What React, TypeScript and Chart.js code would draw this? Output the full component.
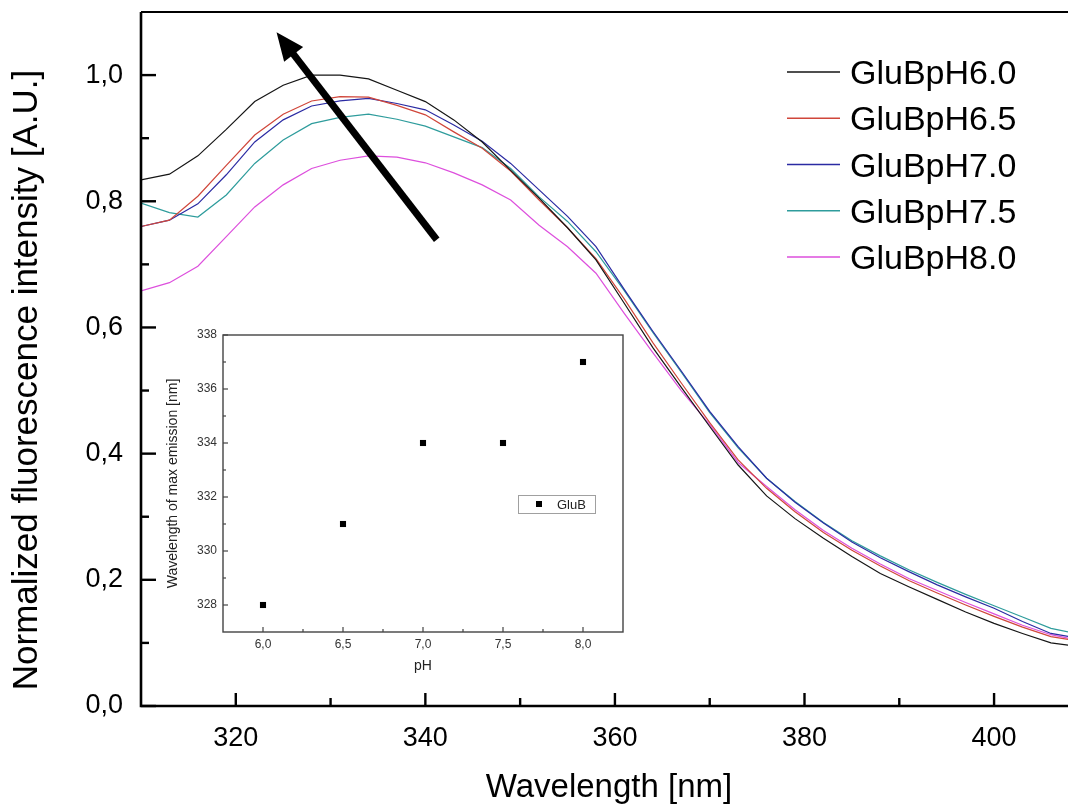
import React, { useEffect, useRef } from 'react';
import { Chart, registerables } from 'chart.js';

Chart.register(...registerables);

const FONT = '"Liberation Sans", Arial, Helvetica, sans-serif';

// ---- main chart data ----
const wavelengths = [310, 313, 316, 319, 322, 325, 328, 331, 334, 337, 340, 343, 346, 349, 352, 355, 358, 361, 364, 367, 370, 373, 376, 379, 382, 385, 388, 391, 394, 397, 400, 403, 406, 408];
const gluBpH60 = [0.834, 0.843, 0.872, 0.914, 0.958, 0.984, 1.0, 1.0, 0.994, 0.976, 0.958, 0.929, 0.894, 0.849, 0.805, 0.758, 0.707, 0.638, 0.568, 0.505, 0.443, 0.382, 0.333, 0.297, 0.266, 0.237, 0.21, 0.189, 0.169, 0.149, 0.131, 0.115, 0.1, 0.096];
const gluBpH65 = [0.76, 0.77, 0.808, 0.857, 0.905, 0.938, 0.959, 0.966, 0.965, 0.952, 0.937, 0.91, 0.884, 0.848, 0.802, 0.758, 0.709, 0.645, 0.576, 0.512, 0.449, 0.39, 0.345, 0.308, 0.275, 0.247, 0.222, 0.199, 0.179, 0.16, 0.142, 0.125, 0.11, 0.105];
const gluBpH70 = [0.76, 0.77, 0.796, 0.842, 0.894, 0.929, 0.951, 0.959, 0.963, 0.955, 0.945, 0.921, 0.895, 0.86, 0.818, 0.776, 0.728, 0.66, 0.594, 0.531, 0.467, 0.411, 0.361, 0.323, 0.29, 0.26, 0.235, 0.213, 0.192, 0.173, 0.155, 0.134, 0.115, 0.11];
const gluBpH75 = [0.797, 0.782, 0.775, 0.81, 0.86, 0.897, 0.923, 0.933, 0.938, 0.93, 0.919, 0.902, 0.885, 0.852, 0.807, 0.768, 0.72, 0.658, 0.592, 0.529, 0.465, 0.409, 0.361, 0.324, 0.291, 0.262, 0.238, 0.216, 0.196, 0.177, 0.159, 0.141, 0.123, 0.117];
const gluBpH80 = [0.658, 0.671, 0.697, 0.744, 0.791, 0.826, 0.852, 0.865, 0.872, 0.87, 0.861, 0.845, 0.826, 0.802, 0.762, 0.728, 0.686, 0.622, 0.56, 0.5, 0.446, 0.386, 0.348, 0.311, 0.278, 0.25, 0.225, 0.202, 0.183, 0.164, 0.146, 0.128, 0.113, 0.107];
const seriesLabels = ['GluBpH6.0', 'GluBpH6.5', 'GluBpH7.0', 'GluBpH7.5', 'GluBpH8.0'];
const seriesValues = [gluBpH60, gluBpH65, gluBpH70, gluBpH75, gluBpH80];
const seriesColors = ['#151515', '#d0463a', '#2b2ba3', '#2e9c9c', '#dd4fdd'];

const mainXTicks = [320, 340, 360, 380, 400];
const mainXMinorTicks = [330, 350, 370, 390];
const mainYTicks = [0, 0.2, 0.4, 0.6, 0.8, 1.0];
const mainYMinorTicks = [0.1, 0.3, 0.5, 0.7, 0.9];
const arrowTail = { x: 341.2, y: 0.739 };
const arrowTip = { x: 324.3, y: 1.068 };

// ---- inset data ----
const insetPH = [6.0, 6.5, 7.0, 7.5, 8.0];
const insetMaxEmission = [328, 331, 334, 334, 337];
const insetLabel = 'GluB';
const insetXTicks = [6.0, 6.5, 7.0, 7.5, 8.0];
const insetXMinorTicks = [6.25, 6.75, 7.25, 7.75];
const insetYTicks = [328, 330, 332, 334, 336, 338];
const insetYMinorTicks = [329, 331, 333, 335, 337];

const comma = (v: number) => v.toFixed(1).replace('.', ',');

const W = 1068;
const H = 805;

function seg(ctx: CanvasRenderingContext2D, x1: number, y1: number, x2: number, y2: number) {
  ctx.beginPath();
  ctx.moveTo(x1, y1);
  ctx.lineTo(x2, y2);
  ctx.stroke();
}

const mainDecor = {
  id: 'mainDecor',
  afterDatasetsDraw(chart: any) {
    const { ctx, chartArea: a, scales } = chart;
    const x = scales.x;
    const y = scales.y;
    ctx.save();
    ctx.strokeStyle = '#000';
    ctx.fillStyle = '#000';
    // axes frame
    ctx.lineWidth = 2.6;
    ctx.beginPath();
    ctx.moveTo(a.left, a.top);
    ctx.lineTo(a.left, a.bottom);
    ctx.lineTo(a.right, a.bottom);
    ctx.stroke();
    ctx.lineWidth = 2;
    seg(ctx, a.left, a.top, a.right, a.top);
    // ticks (inward)
    ctx.lineWidth = 2.4;
    mainYTicks.forEach((v) => { const p = y.getPixelForValue(v); seg(ctx, a.left, p, a.left + 15, p); });
    mainYMinorTicks.forEach((v) => { const p = y.getPixelForValue(v); seg(ctx, a.left, p, a.left + 8, p); });
    mainXTicks.forEach((v) => { const p = x.getPixelForValue(v); seg(ctx, p, a.bottom, p, a.bottom - 13); });
    mainXMinorTicks.forEach((v) => { const p = x.getPixelForValue(v); seg(ctx, p, a.bottom, p, a.bottom - 8); });

    // arrow
    const tx = x.getPixelForValue(arrowTail.x);
    const ty = y.getPixelForValue(arrowTail.y);
    const hx = x.getPixelForValue(arrowTip.x);
    const hy = y.getPixelForValue(arrowTip.y);
    const ang = Math.atan2(hy - ty, hx - tx);
    const headLen = 28;
    const headHalf = 12;
    const bx = hx - headLen * Math.cos(ang);
    const by = hy - headLen * Math.sin(ang);
    ctx.lineWidth = 7;
    seg(ctx, tx, ty, bx + 2 * Math.cos(ang), by + 2 * Math.sin(ang));
    ctx.beginPath();
    ctx.moveTo(hx, hy);
    ctx.lineTo(bx + headHalf * Math.sin(ang), by - headHalf * Math.cos(ang));
    ctx.lineTo(bx - headHalf * Math.sin(ang), by + headHalf * Math.cos(ang));
    ctx.closePath();
    ctx.fill();

    // legend
    ctx.font = `34px ${FONT}`;
    ctx.textAlign = 'left';
    ctx.textBaseline = 'alphabetic';
    chart.data.datasets.forEach((ds: any, i: number) => {
      const ry = 72 + i * 46.25;
      ctx.strokeStyle = ds.borderColor;
      ctx.lineWidth = 1.3;
      seg(ctx, 787, ry, 840, ry);
      ctx.fillStyle = '#000';
      ctx.fillText(ds.label, 850, ry + 12);
    });

    // axis titles
    ctx.fillStyle = '#000';
    ctx.font = `33px ${FONT}`;
    ctx.textAlign = 'center';
    ctx.fillText('Wavelength [nm]', 609, 797);
    ctx.save();
    ctx.translate(37, 380);
    ctx.rotate(-Math.PI / 2);
    ctx.font = `35px ${FONT}`;
    ctx.fillText('Normalized fluorescence intensity [A.U.]', 0, 0);
    ctx.restore();
    ctx.restore();
  },
};

const insetDecor = {
  id: 'insetDecor',
  afterDatasetsDraw(chart: any) {
    const { ctx, chartArea: a, scales } = chart;
    const x = scales.x;
    const y = scales.y;
    ctx.save();
    ctx.strokeStyle = '#444';
    ctx.lineWidth = 1.4;
    ctx.strokeRect(a.left, a.top, a.right - a.left, a.bottom - a.top);
    ctx.lineWidth = 1.2;
    insetYTicks.forEach((v) => { const p = y.getPixelForValue(v); seg(ctx, a.left, p, a.left + 5, p); });
    insetYMinorTicks.forEach((v) => { const p = y.getPixelForValue(v); seg(ctx, a.left, p, a.left + 3, p); });
    insetXTicks.forEach((v) => { const p = x.getPixelForValue(v); seg(ctx, p, a.bottom, p, a.bottom - 5); });
    insetXMinorTicks.forEach((v) => { const p = x.getPixelForValue(v); seg(ctx, p, a.bottom, p, a.bottom - 3); });

    // legend box
    ctx.strokeStyle = '#a0a0a0';
    ctx.lineWidth = 1;
    ctx.strokeRect(518.5, 495.5, 77, 18);
    ctx.fillStyle = '#000';
    ctx.fillRect(536, 501, 6, 6);
    ctx.fillStyle = '#222';
    ctx.font = `13px ${FONT}`;
    ctx.textAlign = 'left';
    ctx.textBaseline = 'alphabetic';
    ctx.fillText(chart.data.datasets[0].label, 557, 509);

    // titles
    ctx.fillStyle = '#222';
    ctx.font = `14px ${FONT}`;
    ctx.textAlign = 'center';
    ctx.fillText('pH', 423, 670);
    ctx.save();
    ctx.translate(177, (a.top + a.bottom) / 2);
    ctx.rotate(-Math.PI / 2);
    ctx.font = `14px ${FONT}`;
    ctx.fillText('Wavelength of max emission [nm]', 0, 0);
    ctx.restore();
    ctx.restore();
  },
};

export default function App() {
  const mainRef = useRef<HTMLCanvasElement | null>(null);
  const insetRef = useRef<HTMLCanvasElement | null>(null);

  useEffect(() => {
    document.body.style.margin = '0';
    Chart.defaults.font.family = FONT;
    Chart.defaults.color = '#000';

    const main = new Chart(mainRef.current as HTMLCanvasElement, {
      type: 'line',
      data: {
        datasets: seriesValues.map((vals, i) => ({
          label: seriesLabels[i],
          data: wavelengths.map((w, j) => ({ x: w, y: vals[j] })),
          borderColor: seriesColors[i],
          backgroundColor: seriesColors[i],
          borderWidth: 1.2,
          pointRadius: 0,
          tension: 0,
          fill: false,
        })),
      },
      options: {
        responsive: false,
        animation: false,
        devicePixelRatio: 1,
        events: [],
        layout: { padding: { top: 12, right: 0, bottom: 0, left: 0 } },
        plugins: { legend: { display: false }, tooltip: { enabled: false }, title: { display: false } },
        scales: {
          x: {
            type: 'linear',
            min: 310,
            max: 407.8,
            afterBuildTicks: (s: any) => { s.ticks = mainXTicks.map((v) => ({ value: v })); },
            afterFit: (s: any) => { s.height = 99; s.paddingLeft = 0; s.paddingRight = 0; },
            grid: { display: false, drawTicks: false },
            border: { display: false },
            ticks: { font: { size: 27 }, padding: 16, maxRotation: 0, callback: (v: any) => String(v) },
          },
          y: {
            type: 'linear',
            min: 0,
            max: 1.1,
            afterBuildTicks: (s: any) => { s.ticks = mainYTicks.map((v) => ({ value: v })); },
            afterFit: (s: any) => { s.width = 141; s.paddingTop = 0; s.paddingBottom = 0; },
            grid: { display: false, drawTicks: false },
            border: { display: false },
            ticks: { font: { size: 27 }, padding: 18, callback: (v: any) => comma(Number(v)) },
          },
        },
      } as any,
      plugins: [mainDecor],
    });

    const inset = new Chart(insetRef.current as HTMLCanvasElement, {
      type: 'scatter',
      data: {
        datasets: [
          {
            label: insetLabel,
            data: insetPH.map((p, i) => ({ x: p, y: insetMaxEmission[i] })),
            pointStyle: 'rect',
            pointRadius: 4.3,
            borderWidth: 0,
            backgroundColor: '#000',
            borderColor: '#000',
          },
        ],
      },
      options: {
        responsive: false,
        animation: false,
        devicePixelRatio: 1,
        events: [],
        layout: { padding: { top: 335, right: W - 623, bottom: 0, left: 0 } },
        plugins: { legend: { display: false }, tooltip: { enabled: false } },
        scales: {
          x: {
            type: 'linear',
            min: 5.75,
            max: 8.25,
            afterBuildTicks: (s: any) => { s.ticks = insetXTicks.map((v) => ({ value: v })); },
            afterFit: (s: any) => { s.height = H - 632; s.paddingLeft = 0; s.paddingRight = 0; },
            grid: { display: false, drawTicks: false },
            border: { display: false },
            ticks: { font: { size: 12 }, color: '#333', padding: 5, maxRotation: 0, callback: (v: any) => comma(Number(v)) },
          },
          y: {
            type: 'linear',
            min: 327,
            max: 338,
            afterBuildTicks: (s: any) => { s.ticks = insetYTicks.map((v) => ({ value: v })); },
            afterFit: (s: any) => { s.width = 223; s.paddingTop = 0; s.paddingBottom = 0; },
            grid: { display: false, drawTicks: false },
            border: { display: false },
            ticks: { font: { size: 12 }, color: '#333', padding: 6, callback: (v: any) => String(v) },
          },
        },
      } as any,
      plugins: [insetDecor],
    });

    return () => {
      main.destroy();
      inset.destroy();
    };
  }, []);

  return (
    <div style={{ position: 'absolute', left: 0, top: 0, width: W, height: H, background: '#fff' }}>
      <canvas ref={mainRef} width={W} height={H} style={{ position: 'absolute', left: 0, top: 0 }} />
      <canvas ref={insetRef} width={W} height={H} style={{ position: 'absolute', left: 0, top: 0 }} />
    </div>
  );
}
